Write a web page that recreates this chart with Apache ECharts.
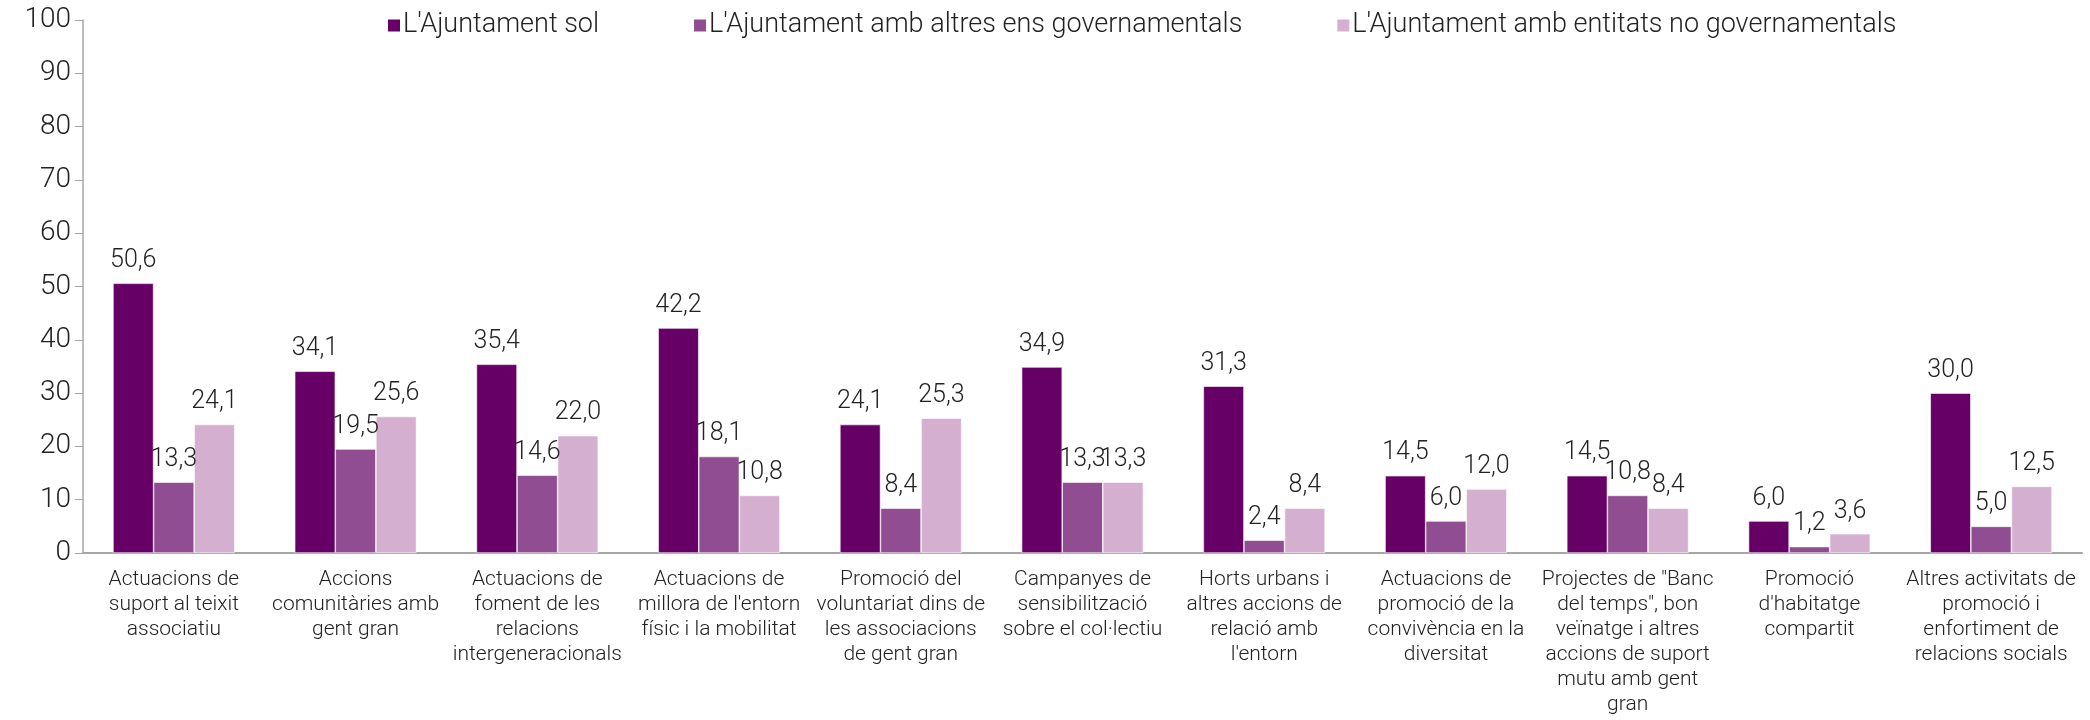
<!DOCTYPE html>
<html>
<head>
<meta charset="utf-8">
<script src="https://cdn.jsdelivr.net/npm/echarts@6/dist/echarts.min.js"></script>
<style>
  html, body { margin: 0; padding: 0; background: #fff; }
</style>
</head>
<body>
<!-- contenidor del gràfic -->
<div id="chart" style="width: 2090px; height: 720px"></div>
<script>
// categories (eix X)
var categories = [
  "Actuacions de\nsuport al teixit\nassociatiu",
  "Accions\ncomunitàries amb\ngent gran",
  "Actuacions de\nfoment de les\nrelacions\nintergeneracionals",
  "Actuacions de\nmillora de l'entorn\nfísic i la mobilitat",
  "Promoció del\nvoluntariat dins de\nles associacions\nde gent gran",
  "Campanyes de\nsensibilització\nsobre el col·lectiu",
  "Horts urbans i\naltres accions de\nrelació amb\nl'entorn",
  "Actuacions de\npromoció de la\nconvivència en la\ndiversitat",
  "Projectes de \"Banc\ndel temps\", bon\nveïnatge i altres\naccions de suport\nmutu amb gent\ngran",
  "Promoció\nd'habitatge\ncompartit",
  "Altres activitats de\npromoció i\nenfortiment de\nrelacions socials"
];

// noms de les sèries
var seriesNames = [
  "L'Ajuntament sol",
  "L'Ajuntament amb altres ens governamentals",
  "L'Ajuntament amb entitats no governamentals"
];

// valors (%)
var ajuntamentSol = [50.6, 34.1, 35.4, 42.2, 24.1, 34.9, 31.3, 14.5, 14.5, 6.0, 30.0];
var ambEnsGovernamentals = [13.3, 19.5, 14.6, 18.1, 8.4, 13.3, 2.4, 6.0, 10.8, 1.2, 5.0];
var ambEntitatsNoGov = [24.1, 25.6, 22.0, 10.8, 25.3, 13.3, 8.4, 12.0, 8.4, 3.6, 12.5];

// eix Y
var yMin = 0;
var yMax = 100;
var yInterval = 10;

var colors = ["#660066", "#904D91", "#D4AFD0"];
var fontFamily = "Roboto, 'Liberation Sans', sans-serif";

function makeSeries(name, data, color) {
  return {
    name: name,
    type: "bar",
    data: data,
    barGap: "0%",
    barCategoryGap: "33%",
    itemStyle: { color: color, borderColor: "#fff", borderWidth: 0.6 },
    label: {
      show: true,
      position: "top",
      distance: 10,
      color: "#222",
      fontSize: 25,
      fontFamily: fontFamily,
      fontWeight: 300,
      formatter: function (p) {
        return p.value.toFixed(1).replace(".", ",");
      }
    }
  };
}

var chart = echarts.init(document.getElementById("chart"));
chart.setOption({
  animation: false,
  textStyle: { fontFamily: fontFamily },
  legend: {
    left: 381,
    top: 7,
    itemWidth: 14,
    itemHeight: 14,
    itemGap: 93,
    icon: "rect",
    textStyle: { fontSize: 27, color: "#222", fontWeight: 300, padding: [0, 0, 0, -3] },
    data: seriesNames
  },
  grid: {
    left: 83,
    right: 8,
    top: 20,
    bottom: 167,
    outerBoundsMode: "none"
  },
  xAxis: {
    type: "category",
    data: categories,
    axisTick: { show: false },
    axisLine: { lineStyle: { color: "#A6A6A6", width: 2 } },
    axisLabel: {
      interval: 0,
      margin: 14,
      fontSize: 21,
      lineHeight: 25,
      color: "#222",
      fontWeight: 300
    }
  },
  yAxis: {
    type: "value",
    min: yMin,
    max: yMax,
    interval: yInterval,
    splitLine: { show: false },
    axisLine: { show: true, lineStyle: { color: "#A6A6A6", width: 1.5 } },
    axisTick: { show: true, length: 8, lineStyle: { color: "#A6A6A6" } },
    axisLabel: {
      fontSize: 28,
      color: "#222",
      margin: 12,
      fontWeight: 300
    }
  },
  series: [
    makeSeries(seriesNames[0], ajuntamentSol, colors[0]),
    makeSeries(seriesNames[1], ambEnsGovernamentals, colors[1]),
    makeSeries(seriesNames[2], ambEntitatsNoGov, colors[2])
  ]
});
</script>
</body>
</html>
